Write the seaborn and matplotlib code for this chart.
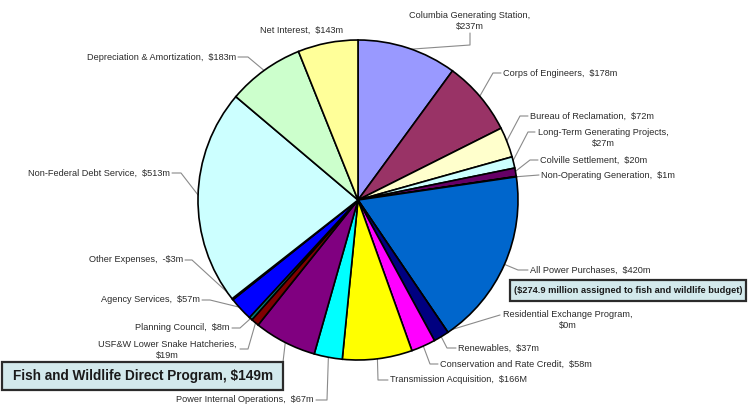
import numpy as np
import matplotlib
import seaborn as sns
from matplotlib.patches import Rectangle

matplotlib.use("Agg")
import matplotlib.pyplot as plt

# slices, clockwise from 12 o'clock ($ millions)
names = [
    "Columbia Generating Station", "Corps of Engineers", "Bureau of Reclamation",
    "Long-Term Generating Projects", "Colville Settlement", "Non-Operating Generation",
    "All Power Purchases", "Residential Exchange Program", "Renewables",
    "Conservation and Rate Credit", "Transmission Acquisition", "Power Internal Operations",
    "Fish and Wildlife Direct Program", "USF&W Lower Snake Hatcheries", "Planning Council",
    "Agency Services", "Other Expenses", "Non-Federal Debt Service",
    "Depreciation & Amortization", "Net Interest",
]
values = [237, 178, 72, 27, 20, 1, 420, 0, 37, 58, 166, 67, 149, 19, 8, 57, -3, 513, 183, 143]
units = ["m"] * 10 + ["M"] + ["m"] * 9
wrapped = {0, 3, 7, 13}
fish_idx = 12
fish_note = "($274.9 million assigned to fish and wildlife budget)"

colors = ["#9999FF", "#993366", "#FFFFCC", "#CCFFFF", "#660066", "#FF8080",
          "#0066CC", "#CCCCFF", "#000080", "#FF00FF", "#FFFF00", "#00FFFF",
          "#800080", "#800000", "#008080", "#0000FF", "#00CCFF", "#CCFFFF",
          "#CCFFCC", "#FFFF99"]

W, H = 748, 408
CX, CY, R = 358, 200, 160


def px(x, y):
    return x, H - y


# label layout: text position (px, y down), alignment, leader points before the wedge
layout = {
    0: (470, 21, "center", [(470, 33), (470, 45)]),
    1: (503, 73, "left", [(501, 73), (493, 73)]),
    2: (530, 116, "left", [(528, 116), (520, 116)]),
    3: (603, 138, "center", [(535, 132), (528, 132)]),
    4: (540, 160, "left", [(538, 160), (530, 160)]),
    5: (541, 175, "left", [(539, 175)]),
    6: (530, 270, "left", [(528, 270), (518, 270)]),
    7: (568, 320, "center", [(500, 315), (490, 318)]),
    8: (458, 348, "left", [(456, 348), (447, 348)]),
    9: (440, 364, "left", [(438, 364), (430, 364)]),
    10: (390, 380, "left", [(388, 380), (378, 380)]),
    11: (314, 400, "right", [(316, 400), (327, 400)]),
    13: (167, 350, "center", [(240, 349), (248, 349)]),
    14: (230, 328, "right", [(232, 328), (240, 328)]),
    15: (200, 300, "right", [(202, 300), (210, 300)]),
    16: (183, 260, "right", [(185, 260), (192, 260)]),
    17: (170, 173, "right", [(172, 173), (181, 173)]),
    18: (236, 57, "right", [(238, 57), (248, 57)]),
    19: (302, 30, "center", []),
}

sns.set_theme(style="white")
plt.rcParams["font.family"] = ["Liberation Sans", "DejaVu Sans"]

fig = plt.figure(figsize=(W / 100, H / 100), dpi=100)
ax = fig.add_axes([0, 0, 1, 1])

sizes = np.abs(values)
wedges, _ = ax.pie(
    sizes,
    colors=sns.color_palette(colors),
    startangle=90,
    counterclock=False,
    center=px(CX, CY),
    radius=R,
    wedgeprops=dict(edgecolor="black", linewidth=1.2),
)
ax.set_xlim(0, W)
ax.set_ylim(0, H)
ax.set_aspect("equal")
ax.axis("off")


def fmt(i):
    v = values[i]
    sign = "-$" if v < 0 else "$"
    sep = ",\n" if i in wrapped else ",  "
    return f"{names[i]}{sep}{sign}{abs(v)}{units[i]}"


def edge_point(i):
    w = wedges[i]
    mid = np.deg2rad((w.theta1 + w.theta2) / 2)
    cx, cy = px(CX, CY)
    return cx + R * 0.99 * np.cos(mid), cy + R * 0.99 * np.sin(mid)


for i, (tx, ty, ha, path) in layout.items():
    ax.text(*px(tx, ty), fmt(i), ha=ha, va="center", fontsize=6.6,
            color="#2a2a2a", linespacing=1.35, multialignment="center")
    if path:
        pts = [px(x, y) for x, y in path] + [edge_point(i)]
        xs, ys = zip(*pts)
        ax.plot(xs, ys, color="#8a8a8a", lw=0.8, zorder=0.5)

# fish and wildlife callout
box_fc, box_ec = "#D3E9EC", "#2b2b2b"
ax.add_patch(Rectangle(px(2, 390), 281, 28, facecolor=box_fc, edgecolor=box_ec, lw=1.6))
ax.text(*px(143, 376), f"{names[fish_idx]}, ${values[fish_idx]}m", ha="center",
        va="center", fontsize=9.8, fontweight="bold", color="#1a1a1a")
pts = [px(283, 362)] + [edge_point(fish_idx)]
xs, ys = zip(*pts)
ax.plot(xs, ys, color="#8a8a8a", lw=0.8, zorder=0.5)

ax.add_patch(Rectangle(px(510, 301), 236, 21, facecolor=box_fc, edgecolor=box_ec, lw=1.6))
ax.text(*px(628, 290.5), fish_note, ha="center", va="center", fontsize=6.7,
        fontweight="bold", color="#1a1a1a")

fig.savefig("out.png", dpi=100)
